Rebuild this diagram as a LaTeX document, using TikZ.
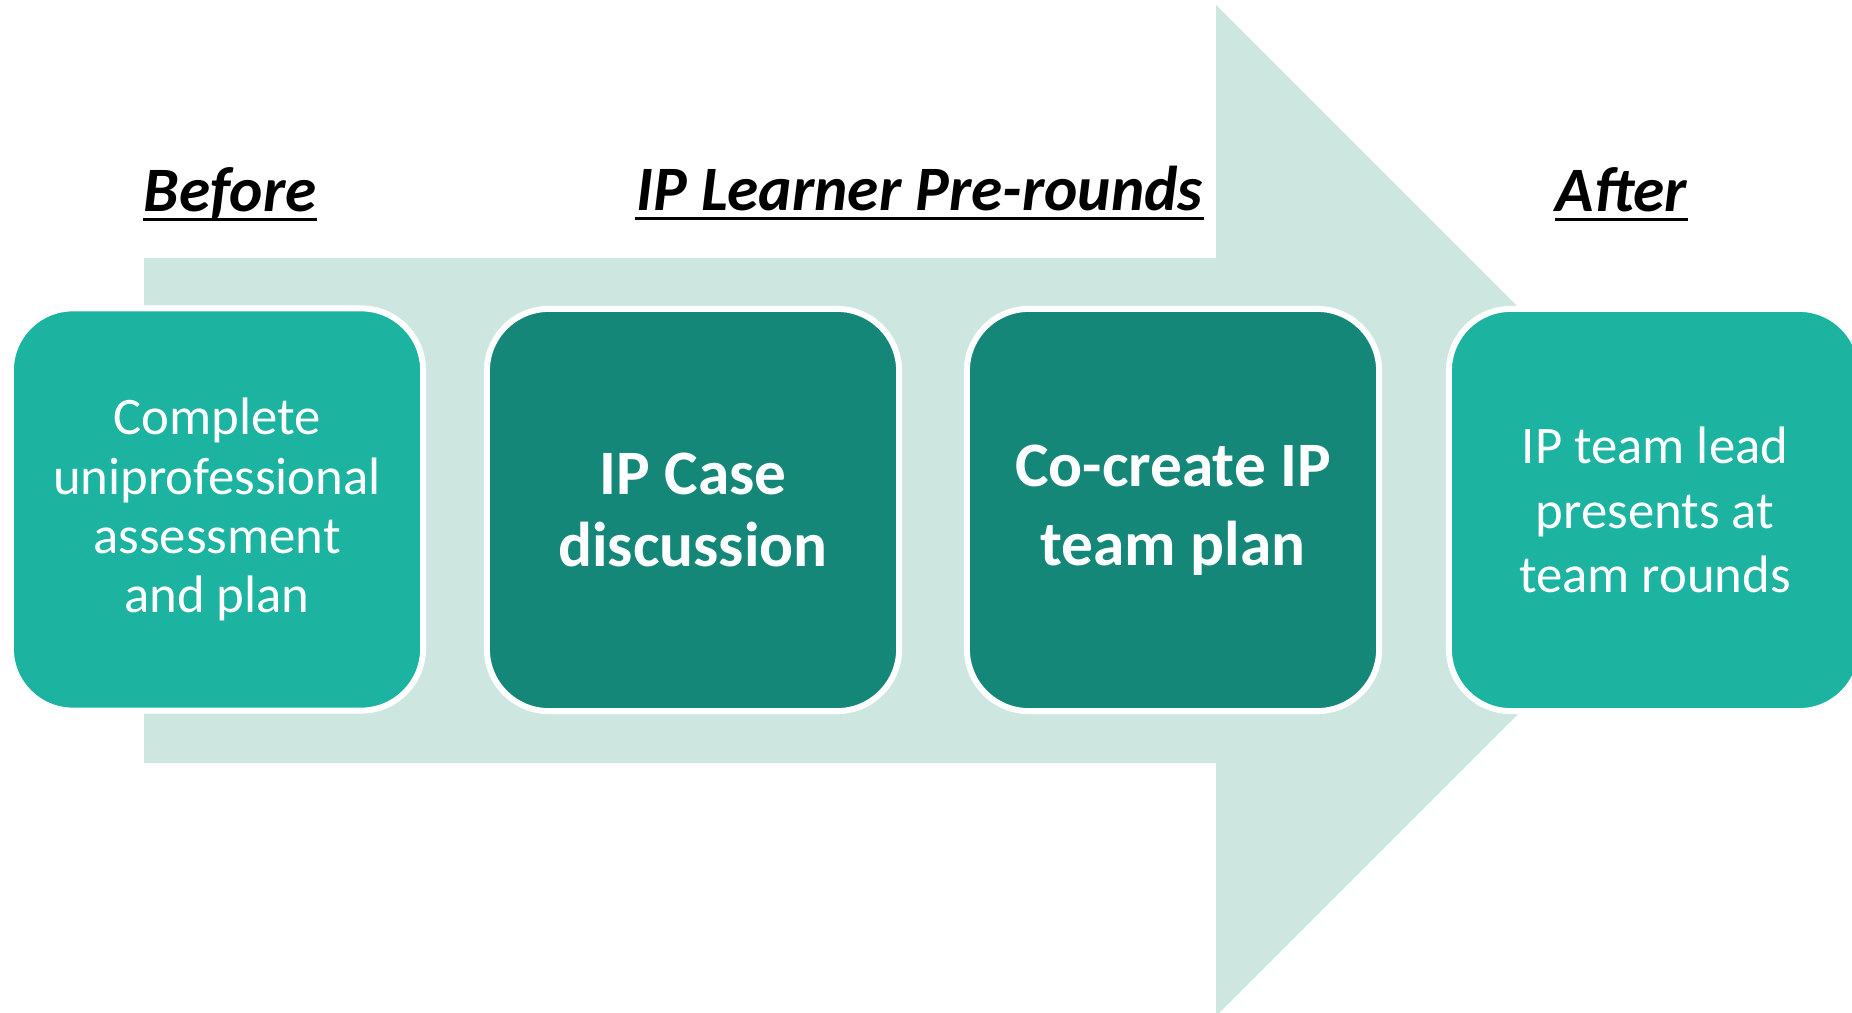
\documentclass[tikz,border=0pt]{standalone}
\usepackage{fontspec}
\setmainfont{Carlito}
\definecolor{arrowfill}{HTML}{CDE6DF}
\definecolor{tealmid}{HTML}{1CB3A0}
\definecolor{tealdeep}{HTML}{158778}
\begin{document}
\begin{tikzpicture}[x=0.01cm,y=-0.01cm,
	stage/.style={rectangle,rounded corners=0.62cm,draw=white,line width=1.7pt,
		minimum width=4.12cm,minimum height=4.02cm,inner sep=0pt,align=center,text=white},
	stagemid/.style={stage,fill=tealmid,font=\fontsize{15}{16.8}\selectfont},
	stagedeep/.style={stage,fill=tealdeep,font=\bfseries\fontsize{18}{20.5}\selectfont},
	heading/.style={inner sep=0pt,anchor=base,font=\bfseries\itshape\fontsize{18}{21}\selectfont}]
\clip (0,0) rectangle (1852,1013);
% big background arrow
\fill[arrowfill] (144,258) -- (1216,258) -- (1216,5) -- (1721.5,510.5)
	-- (1216,1016) -- (1216,763) -- (144,763) -- cycle;
% the four stages
\node[stagemid] (assess) at (217,509.5) {Complete\\uniprofessional\\assessment\\and plan};
\node[stagedeep] (case) at (693,510) {IP Case\\discussion};
\node[stagedeep,font=\bfseries\fontsize{18}{22.5}\selectfont] (plan) at (1173,510) {Co-create IP\\team plan};
\node[stagemid,font=\fontsize{15}{18.3}\selectfont] (lead) at (1655,510) {IP team lead\\presents at\\team rounds};
% headings
\node[heading] (before) at (230,212) {Before};
\node[heading] (prerounds) at (919.5,211) {IP Learner Pre-rounds};
\node[heading] (after) at (1621.5,212) {After};
\foreach \h in {before,prerounds,after}
	\draw[line width=0.85pt] ([yshift=-2.1pt]\h.base west) -- ([yshift=-2.1pt]\h.base east);
\end{tikzpicture}
\end{document}
